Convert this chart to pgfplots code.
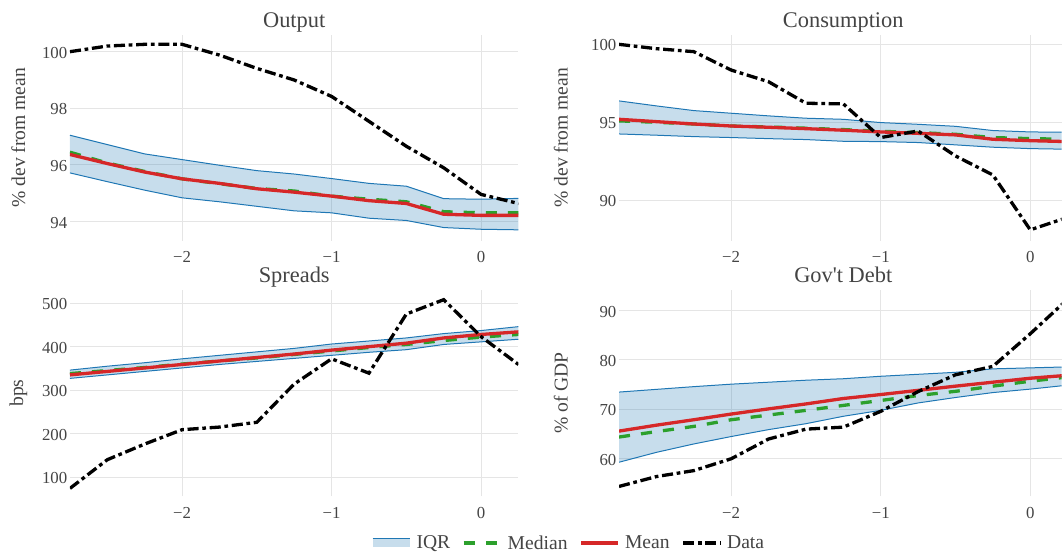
\documentclass[border=0pt]{standalone}
\usepackage{fontspec}
\setmainfont{Liberation Serif}[Ligatures=TeXOff]
\usepackage{pgfplots}
\pgfplotsset{compat=1.18}
\usepackage{pgfplotstable}
\usepgfplotslibrary{fillbetween}

\definecolor{iqr}{HTML}{1F77B4}
\definecolor{medc}{HTML}{2CA02C}
\definecolor{meanc}{HTML}{D62728}
\definecolor{txt}{HTML}{444444}
\definecolor{gridc}{HTML}{E5E5E5}

\pgfplotstableread{
x hi lo med mean data
-2.75 97.05 95.72 96.45 96.37 100.00
-2.50 96.72 95.41 96.07 96.05 100.20
-2.25 96.39 95.11 95.77 95.75 100.26
-2.00 96.19 94.84 95.51 95.51 100.26
-1.75 95.99 94.70 95.34 95.35 99.88
-1.50 95.80 94.54 95.17 95.16 99.41
-1.25 95.68 94.38 95.08 95.04 99.00
-1.00 95.52 94.31 94.90 94.90 98.42
-0.75 95.35 94.12 94.79 94.74 97.54
-0.50 95.25 94.04 94.70 94.64 96.66
-0.25 94.81 93.79 94.35 94.26 95.90
0.00 94.79 93.73 94.31 94.22 94.96
0.25 94.82 93.71 94.31 94.22 94.64
}\tout

\pgfplotstableread{
x hi lo med mean data
-2.75 96.37 94.25 95.09 95.19 100.00
-2.50 96.05 94.17 95.00 95.04 99.72
-2.25 95.75 94.08 94.89 94.89 99.53
-2.00 95.58 94.02 94.76 94.76 98.35
-1.75 95.41 93.95 94.70 94.68 97.60
-1.50 95.26 93.89 94.62 94.59 96.22
-1.25 95.19 93.78 94.53 94.49 96.18
-1.00 94.98 93.76 94.42 94.38 94.02
-0.75 94.87 93.70 94.34 94.29 94.44
-0.50 94.74 93.55 94.23 94.19 92.84
-0.25 94.47 93.40 94.02 93.91 91.62
0.00 94.38 93.31 93.95 93.82 88.10
0.25 94.36 93.27 93.91 93.76 88.90
}\tcons

\pgfplotstableread{
x hi lo med mean data
-2.75 346 327 338 335 74
-2.50 355 335 345 343 140
-2.25 363 343 352 351 176
-2.00 372 351 360 359 209
-1.75 380 359 367 367 215
-1.50 388 366 374 375 226
-1.25 396 373 382 383 314
-1.00 406 380 390 392 372
-0.75 413 387 398 400 339
-0.50 420 393 405 408 475
-0.25 430 405 414 420 508
0.00 437 411 422 428 423
0.25 446 417 428 434 359
}\tspr

\pgfplotstableread{
x hi lo med mean data
-2.75 73.5 59.3 64.4 65.6 54.4
-2.50 74.05 61.3 65.5 66.8 56.4
-2.25 74.6 63.0 66.55 67.9 57.6
-2.00 75.1 64.5 67.9 69.05 60.0
-1.75 75.5 65.9 68.85 70.1 64.0
-1.50 75.9 67.1 69.8 71.1 66.0
-1.25 76.2 68.6 70.8 72.2 66.4
-1.00 76.7 69.8 71.8 73.0 69.6
-0.75 77.1 71.3 72.8 73.85 73.6
-0.50 77.5 72.4 73.65 74.7 77.0
-0.25 78.2 73.4 74.7 75.5 78.7
0.00 78.4 74.1 75.7 76.3 85.3
0.25 78.6 74.9 76.55 76.9 92.3
}\tdebt

\pgfplotsset{
  panel/.style={
    scale only axis,
    anchor=south west,
    xmin=-2.75,
    axis line style={draw=none},
    major tick length=0pt,
    tick style={draw=none},
    xmajorgrids, ymajorgrids,
    grid style={line width=1pt, gridc},
    xtick={-2,-1,0},
    xticklabels={−2,−1,0},
    ticklabel style={font=\fontsize{16.8}{18}\selectfont, text=txt, inner sep=0pt,
      /pgf/number format/assume math mode=true},
    xticklabel style={anchor=north, yshift=-10.3pt},
    yticklabel style={anchor=east, xshift=-2.5pt, yshift=-1pt},
    title style={font=\fontsize{22.4}{24}\selectfont, text=txt, at={(axis description cs:0.5,1)}, anchor=base, yshift=1pt, inner sep=0pt},
    ylabel style={font=\fontsize{19.6}{21}\selectfont, text=txt, anchor=center},
  },
  leftpanel/.style={panel, width=448.7pt, xmax=0.25,
    ylabel style={at={(axis description cs:-0.1150,0.5)}}},
  rightpanel/.style={panel, width=442.7pt, xmax=0.209,
    ylabel style={at={(axis description cs:-0.1317,0.5)}},
    title style={xshift=3pt}},
  legbox/.code={\path[draw=none, fill=none, use as bounding box] (0pt,-5pt) rectangle (37.3pt,5pt);},
  bandline/.style={iqr, line width=1pt, forget plot},
  bandfill/.style={fill=iqr, fill opacity=0.25, draw=none,
    legend image code/.code={
      \pgfkeys{/pgfplots/legbox}
      \fill[iqr, fill opacity=0.25, draw=none] (0pt,-4.3pt) rectangle (37.3pt,4.3pt);
      \draw[iqr, line width=1pt, fill=none, draw opacity=1] (0pt,4.3pt) -- (37.3pt,4.3pt);}},
  medline/.style={medc, line width=3.3pt, dash pattern=on 11.1pt off 11.1pt,
    legend image code/.code={\pgfkeys{/pgfplots/legbox}
      \draw[medc, line width=3.3pt, dash pattern=on 11.1pt off 11.1pt] (0pt,0pt) -- (37.3pt,0pt);}},
  meanline/.style={meanc, line width=3.3pt,
    legend image code/.code={\pgfkeys{/pgfplots/legbox}
      \draw[meanc, line width=3.3pt] (0pt,0pt) -- (37.3pt,0pt);}},
  dataline/.style={black, line width=3.3pt, dash pattern=on 11.1pt off 3.7pt on 3.7pt off 3.7pt,
    legend image code/.code={\pgfkeys{/pgfplots/legbox}
      \draw[black, line width=3.3pt, dash pattern=on 11.1pt off 3.7pt on 3.7pt off 3.7pt] (0pt,0pt) -- (37.3pt,0pt);}},
}

\begin{document}
\begin{tikzpicture}
\path (0pt,0pt) rectangle (1062pt,557pt);

% Output
\begin{axis}[leftpanel, at={(70pt,316.3pt)}, height=205.7pt,
  ymin=93.33, ymax=100.59, ytick={94,96,98,100},
  title={Output}, ylabel={\% dev from mean}]
  \addplot[bandline, name path=hi] table[x=x,y=hi]{\tout};
  \addplot[bandline, name path=lo] table[x=x,y=lo]{\tout};
  \addplot[bandfill] fill between[of=hi and lo];
  \addplot[medline] table[x=x,y=med]{\tout};
  \addplot[meanline] table[x=x,y=mean]{\tout};
  \addplot[dataline] table[x=x,y=data]{\tout};
\end{axis}

% Consumption
\begin{axis}[rightpanel, at={(619.3pt,316.3pt)}, height=205.7pt,
  ymin=87.41, ymax=100.6, ytick={90,95,100},
  title={Consumption}, ylabel={\% dev from mean}]
  \addplot[bandline, name path=hi] table[x=x,y=hi]{\tcons};
  \addplot[bandline, name path=lo] table[x=x,y=lo]{\tcons};
  \addplot[bandfill] fill between[of=hi and lo];
  \addplot[medline] table[x=x,y=med]{\tcons};
  \addplot[meanline] table[x=x,y=mean]{\tcons};
  \addplot[dataline] table[x=x,y=data]{\tcons};
\end{axis}

% Spreads
\begin{axis}[leftpanel, at={(70pt,60.3pt)}, height=206.7pt,
  ymin=55.4, ymax=530.6, ytick={100,200,300,400,500},
  title={Spreads}, ylabel={bps},
  legend style={at={(axis description cs:0.6746,-0.2255)}, anchor=west,
    draw=none, fill=none, inner sep=0pt, outer sep=0pt,
    font=\fontsize{19.6}{21}\selectfont, text=txt,
    nodes={inner sep=0pt},
    /tikz/every odd column/.append style={column sep=6.7pt},
    /tikz/every even column/.append style={column sep=13.5pt}},
  legend columns=4]
  \addplot[bandline, name path=hi] table[x=x,y=hi]{\tspr};
  \addplot[bandline, name path=lo] table[x=x,y=lo]{\tspr};
  \addplot[bandfill] fill between[of=hi and lo];
  \addlegendentry{IQR}
  \addplot[medline] table[x=x,y=med]{\tspr};
  \addlegendentry{Median}
  \addplot[meanline] table[x=x,y=mean]{\tspr};
  \addlegendentry{Mean}
  \addplot[dataline] table[x=x,y=data]{\tspr};
  \addlegendentry{Data}
\end{axis}

% Gov't Debt
\begin{axis}[rightpanel, at={(619.3pt,60.3pt)}, height=206.7pt,
  ymin=52.37, ymax=94.19, ytick={60,70,80,90},
  title={Gov't Debt}, ylabel={\% of GDP}]
  \addplot[bandline, name path=hi] table[x=x,y=hi]{\tdebt};
  \addplot[bandline, name path=lo] table[x=x,y=lo]{\tdebt};
  \addplot[bandfill] fill between[of=hi and lo];
  \addplot[medline] table[x=x,y=med]{\tdebt};
  \addplot[meanline] table[x=x,y=mean]{\tdebt};
  \addplot[dataline] table[x=x,y=data]{\tdebt};
\end{axis}
\end{tikzpicture}
\end{document}
